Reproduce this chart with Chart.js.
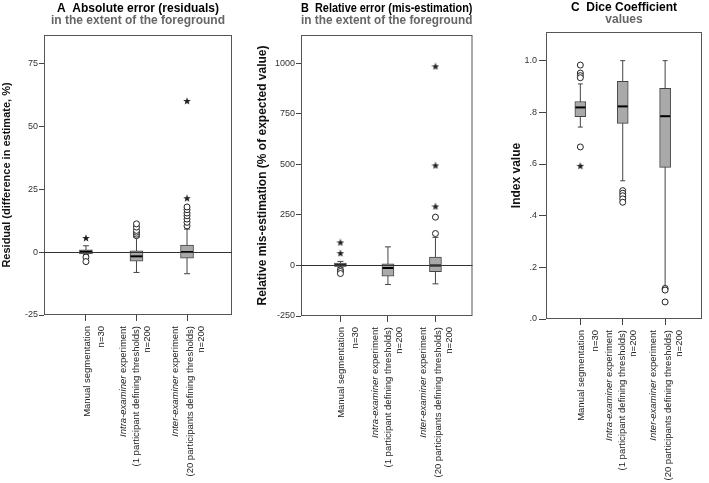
<!DOCTYPE html>
<html><head><meta charset="utf-8">
<script src="https://cdn.jsdelivr.net/npm/chart.js@4.4.1/dist/chart.umd.min.js"></script>
<style>
html,body{margin:0;padding:0;background:#fff;}
#wrap{position:relative;width:709px;height:483px;overflow:hidden;background:#fff;}
canvas{position:absolute;top:0;}
</style></head><body>
<div id="wrap">
<canvas id="cA" width="240" height="483" style="left:0px"></canvas>
<canvas id="cB" width="240" height="483" style="left:240px"></canvas>
<canvas id="cC" width="229" height="483" style="left:480px"></canvas>
</div>
<script>
// ---- categories / labels ----
const categories = ["Manual segmentation", "Intra-examiner experiment", "Inter-examiner experiment"];
const categoryItalicPrefix = ["", "Intra-examiner", "Inter-examiner"];
const categoryDetails = [[], ["(1 participant defining thresholds)"], ["(20 participants defining thresholds)"]];
const categorySizes = ["n=30", "n=200", "n=200"];

// ---- Panel A: absolute error (residuals) ----
const absLowWhisker = [-0.9, -8.1, -8.6];
const absQ1 = [-0.7, -3.6, -2.4];
const absMedian = [0.1, -1.7, 0.0];
const absQ3 = [0.9, 0.5, 2.8];
const absHighWhisker = [2.5, 5.8, 9.1];
const absOutliers = [[-2.0, -3.8], [6.5, 7.1, 7.9, 8.6, 9.9, 11.2], [10.4, 11.8, 13.1, 14.4, 15.5, 16.8, 17.9]];
const absExtremes = [[5.6], [], [21.4, 60.0]];
const absTicks = [-25, 0, 25, 50, 75];

// ---- Panel B: relative error (mis-estimation) ----
const relLowWhisker = [-10, -94, -91];
const relQ1 = [-5, -53, -31];
const relMedian = [1.6, -13, 0];
const relQ3 = [11.5, 8, 41];
const relHighWhisker = [20, 92, 139];
const relOutliers = [[-22, -30, -40], [], [158, 239]];
const relExtremes = [[61, 114], [], [292, 495, 985]];
const relTicks = [-250, 0, 250, 500, 750, 1000];

// ---- Panel C: Dice coefficient ----
const diceLowWhisker = [0.743, 0.535, 0.127];
const diceQ1 = [0.783, 0.757, 0.587];
const diceMedian = [0.819, 0.823, 0.785];
const diceQ3 = [0.842, 0.920, 0.893];
const diceHighWhisker = [0.910, 1.0, 1.0];
const diceOutliers = [[0.983, 0.952, 0.942, 0.934, 0.666], [0.497, 0.487, 0.477, 0.465, 0.452], [0.118, 0.112, 0.066]];
const diceExtremes = [[0.593], [], []];
const diceTicks = [0, 0.2, 0.4, 0.6, 0.8, 1.0];

const FONT = "'Liberation Sans', Arial, Helvetica, sans-serif";

function starImage(size, color) {
  const c = document.createElement('canvas');
  c.width = size; c.height = size;
  const g = c.getContext('2d');
  g.fillStyle = color; g.beginPath();
  const cx = size / 2, cy = size / 2 + 0.3, R = size / 2, r = R * 0.42;
  for (let k = 0; k < 10; k++) {
    const a = -Math.PI / 2 + k * Math.PI / 5;
    const rr = (k % 2) ? r : R;
    g.lineTo(cx + rr * Math.cos(a), cy + rr * Math.sin(a));
  }
  g.closePath(); g.fill();
  return c;
}
const STAR = starImage(8, '#222');

const framePlugin = {
  id: 'frame',
  afterDatasetsDraw(chart) {
    const {ctx, chartArea: a} = chart;
    ctx.save();
    ctx.strokeStyle = '#555'; ctx.lineWidth = 1;
    ctx.strokeRect(a.left + 0.5, a.top + 0.5, a.right - a.left - 1, a.bottom - a.top - 1);
    ctx.restore();
  }
};

const xLabelPlugin = {
  id: 'xlabels',
  afterDraw(chart, args, opts) {
    const ctx = chart.ctx, xs = chart.scales.x, a = chart.chartArea;
    const y0 = a.bottom + opts.gap;
    const normal = opts.size + 'px ' + FONT;
    const italic = 'italic ' + opts.size + 'px ' + FONT;
    ctx.save();
    ctx.fillStyle = '#222'; ctx.textBaseline = 'middle'; ctx.textAlign = 'right';
    categories.forEach((cat, i) => {
      const px = xs.getPixelForValue(i);
      const lines = [cat, ...categoryDetails[i], categorySizes[i]];
      const offs = opts.offsets[i];
      lines.forEach((txt, j) => {
        const dx = offs[j];
        ctx.save();
        ctx.translate(px, y0);
        ctx.rotate(-Math.PI / 2);
        const prefix = j === 0 ? categoryItalicPrefix[i] : '';
        if (prefix) {
          const rest = txt.slice(prefix.length);
          ctx.font = normal;
          ctx.fillText(rest, 0, dx);
          const w = ctx.measureText(rest).width;
          ctx.font = italic;
          ctx.fillText(prefix, -w, dx);
        } else {
          ctx.font = normal;
          ctx.fillText(txt, 0, dx);
        }
        ctx.restore();
      });
    });
    ctx.restore();
  }
};

function pts(arrs) {
  const out = [];
  arrs.forEach((arr, i) => arr.forEach(v => out.push({x: i, y: v})));
  return out;
}

function makePanel(id, p) {
  const datasets = [];
  categories.forEach((c, i) => {
    datasets.push({type: 'line', data: [{x: i, y: p.lo[i]}, {x: i, y: p.hi[i]}],
      borderColor: '#444', borderWidth: 1, pointRadius: 0, showLine: true, order: 10});
  });
  datasets.push({type: 'line', showLine: false,
    data: pts(categories.map((c, i) => [p.lo[i], p.hi[i]])),
    pointStyle: 'line', pointRadius: p.cap / 2, pointBorderColor: '#444', pointBorderWidth: 1, order: 9});
  datasets.push({type: 'bar', data: categories.map((c, i) => ({x: i, y: [p.q1[i], p.q3[i]]})),
    backgroundColor: '#a9a9a9', borderColor: '#444', borderWidth: 1, borderSkipped: false,
    barThickness: p.boxW, order: 5});
  datasets.push({type: 'line', showLine: false, data: categories.map((c, i) => ({x: i, y: p.med[i]})),
    pointStyle: 'line', pointRadius: p.boxW / 2 - 0.5, pointBorderColor: '#000', pointBorderWidth: 2, order: 3});
  datasets.push({type: 'line', showLine: false, data: pts(p.out),
    pointStyle: 'circle', pointRadius: 3, pointBackgroundColor: '#fff', pointBorderColor: '#222',
    pointBorderWidth: 1, order: 2});
  datasets.push({type: 'line', showLine: false, data: pts(p.ext),
    pointStyle: STAR, order: 1});

  return new Chart(document.getElementById(id), {
    type: 'bar',
    data: {datasets},
    plugins: [framePlugin, xLabelPlugin],
    options: {
      responsive: false, animation: false, devicePixelRatio: 1,
      events: [],
      layout: {padding: {left: 0, right: p.padR, top: 0, bottom: 0}},
      plugins: {
        legend: {display: false}, tooltip: {enabled: false},
        title: {display: true, text: p.title, fullSize: false, color: '#000',
          font: {family: FONT, size: p.titleSize, weight: 'bold', lineHeight: 1},
          padding: {top: p.titleTop, bottom: 0}},
        subtitle: {display: true, text: p.subtitle, fullSize: false, color: '#666',
          font: {family: FONT, size: p.subSize, weight: 'bold', lineHeight: 1},
          padding: {top: 0, bottom: p.subPad}},
        xlabels: {gap: 11, size: 9.5, offsets: [[1, 15], [-13, 0, 11], [-12, 3, 14]]}
      },
      scales: {
        x: {type: 'linear', min: p.xmin, max: p.xmax, bounds: 'data', offset: false,
          afterBuildTicks: s => { s.ticks = categories.map((c, i) => ({value: i})); },
          afterFit: s => { s.height = 483 - p.bottom; },
          ticks: {display: false},
          grid: {display: true, offset: false, drawOnChartArea: false, drawTicks: true, tickLength: 6, color: '#444'},
          border: {display: false}},
        y: {type: 'linear', min: p.ymin, max: p.ymax, bounds: 'data',
          afterBuildTicks: s => { s.ticks = p.ticks.map(v => ({value: v})); },
          afterFit: s => { s.width = p.left; },
          ticks: {font: {family: FONT, size: p.tickSize}, color: '#333', padding: p.tickPad, callback: p.fmt},
          grid: {drawOnChartArea: p.zeroLine, z: 1,
            color: c => (c.tick && c.tick.value === 0) ? '#333' : 'rgba(0,0,0,0)',
            tickColor: '#444', tickLength: p.tickLen, drawTicks: true},
          border: {display: false},
          title: {display: true, text: p.ytitle, color: '#111',
            font: {family: FONT, size: p.ytitleSize, weight: 'bold'},
            padding: {top: p.ytitlePad, bottom: 0}}}
      }
    }
  });
}

makePanel('cA', {
  title: 'A  Absolute error (residuals)', subtitle: 'in the extent of the foreground',
  titleSize: 12, subSize: 12, titleTop: 3, subPad: 8,
  ytitle: 'Residual (difference in estimate, %)', ytitleSize: 11, ytitlePad: 0,
  left: 44, padR: 8, bottom: 315, xmin: -0.83, xmax: 2.89, ymin: -25, ymax: 86.2,
  ticks: absTicks, tickSize: 9, tickPad: 1, tickLen: 5, fmt: v => String(v),
  lo: absLowWhisker, q1: absQ1, med: absMedian, q3: absQ3, hi: absHighWhisker,
  out: absOutliers, ext: absExtremes, boxW: 13, cap: 6, zeroLine: true
});
makePanel('cB', {
  title: 'B  Relative error (mis-estimation)', subtitle: 'in the extent of the foreground',
  titleSize: 12, subSize: 12, titleTop: 3, subPad: 8,
  ytitle: 'Relative mis-estimation (% of expected value)', ytitleSize: 12, ytitlePad: 15,
  left: 61, padR: 6, bottom: 316, xmin: -0.83, xmax: 2.78, ymin: -250, ymax: 1140,
  ticks: relTicks, tickSize: 9, tickPad: 1, tickLen: 5, fmt: v => String(v),
  lo: relLowWhisker, q1: relQ1, med: relMedian, q3: relQ3, hi: relHighWhisker,
  out: relOutliers, ext: relExtremes, boxW: 12, cap: 6, zeroLine: true
});
makePanel('cC', {
  title: 'C  Dice Coefficient', subtitle: 'values',
  titleSize: 12, subSize: 12, titleTop: 2, subPad: 6,
  ytitle: 'Index value', ytitleSize: 12, ytitlePad: 29,
  left: 66, padR: 1, bottom: 319, xmin: -0.81, xmax: 2.87, ymin: 0, ymax: 1.111,
  ticks: diceTicks, tickSize: 9, tickPad: 2, tickLen: 7, fmt: v => v.toFixed(1).replace(/^0/, ''),
  lo: diceLowWhisker, q1: diceQ1, med: diceMedian, q3: diceQ3, hi: diceHighWhisker,
  out: diceOutliers, ext: diceExtremes, boxW: 11, cap: 5, zeroLine: false
});
</script>
</body></html>
